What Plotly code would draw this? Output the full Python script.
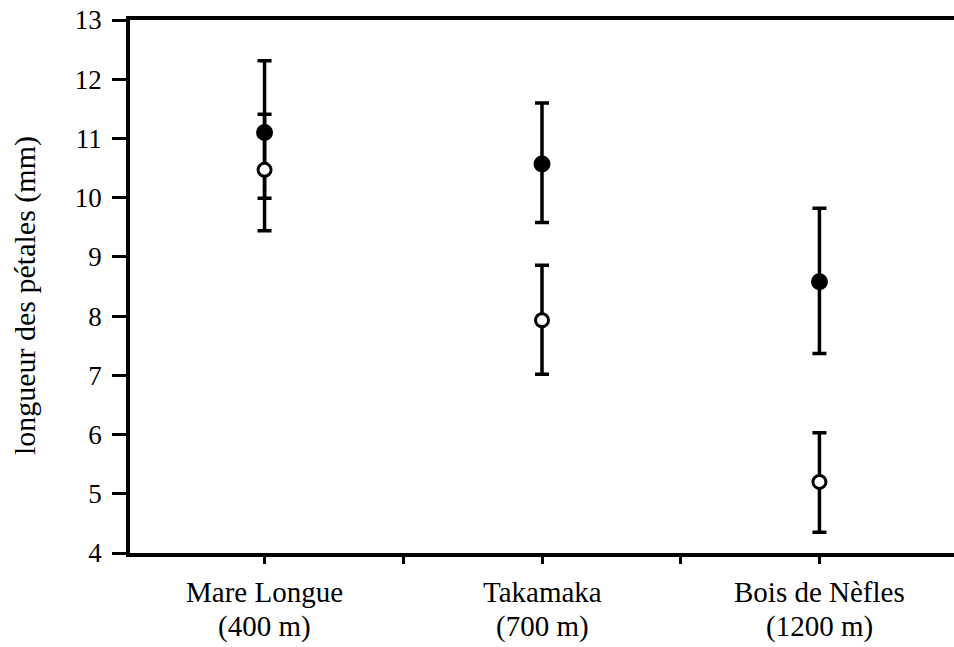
import plotly.graph_objects as go

# Sites along the altitudinal gradient
site_names = ["Mare Longue", "Takamaka", "Bois de Nèfles"]
site_altitudes = ["(400 m)", "(700 m)", "(1200 m)"]
site_pos = [0, 1, 2]

# Petal length (mm): filled symbols
filled_mean = [11.10, 10.57, 8.58]
filled_high = [12.31, 11.60, 9.82]
filled_low = [9.99, 9.58, 7.37]

# Petal length (mm): open symbols
open_mean = [10.47, 7.93, 5.20]
open_high = [11.41, 8.86, 6.03]
open_low = [9.44, 7.02, 4.35]

y_ticks = [4, 5, 6, 7, 8, 9, 10, 11, 12, 13]
x_ticks = [-0.5, 0, 0.5, 1, 1.5, 2, 2.5]
y_title = "longueur des pétales (mm)"

FONT = "'Liberation Serif', 'Times New Roman', Times, serif"
LABEL_SIZE = 29


def err(mean, high, low):
    return dict(
        type="data",
        symmetric=False,
        array=[h - m for h, m in zip(high, mean)],
        arrayminus=[m - l for m, l in zip(mean, low)],
        color="black",
        thickness=3.5,
        width=7,
    )


fig = go.Figure()
fig.add_trace(go.Scatter(
    x=site_pos, y=filled_mean, mode="markers",
    marker=dict(symbol="circle", size=17, color="black", line=dict(width=0)),
    error_y=err(filled_mean, filled_high, filled_low),
    showlegend=False,
))
fig.add_trace(go.Scatter(
    x=site_pos, y=open_mean, mode="markers",
    marker=dict(symbol="circle", size=13, color="white", line=dict(width=3, color="black")),
    error_y=err(open_mean, open_high, open_low),
    showlegend=False,
))

# Two-line category labels under the axis, set close together
annotations = []
for pos, name, alt in zip(site_pos, site_names, site_altitudes):
    annotations.append(dict(
        x=pos, xref="x", y=0, yref="paper", yshift=-39,
        text=name, showarrow=False, xanchor="center", yanchor="middle",
        font=dict(family=FONT, size=LABEL_SIZE, color="black"),
    ))
    annotations.append(dict(
        x=pos, xref="x", y=0, yref="paper", yshift=-73,
        text=alt, showarrow=False, xanchor="center", yanchor="middle",
        font=dict(family=FONT, size=LABEL_SIZE, color="black"),
    ))

# Rotated axis title
annotations.append(dict(
    x=0, xref="paper", xshift=-105, y=0.482, yref="paper",
    text=y_title, textangle=-90, showarrow=False,
    xanchor="center", yanchor="middle",
    font=dict(family=FONT, size=30, color="black"),
))

fig.update_layout(
    width=954, height=647,
    margin=dict(l=130, r=0, t=20, b=94),
    paper_bgcolor="white", plot_bgcolor="white",
    font=dict(family=FONT, color="black", size=27),
    annotations=annotations,
    xaxis=dict(
        range=[-0.485, 2.485],
        tickmode="array", tickvals=x_ticks, ticktext=[""] * len(x_ticks),
        ticks="outside", ticklen=7, tickwidth=2.5, tickcolor="black",
        showline=True, linecolor="black", linewidth=3.5, mirror=True,
        showgrid=False, zeroline=False,
    ),
    yaxis=dict(
        range=[4, 13],
        tickmode="array", tickvals=y_ticks,
        ticks="outside", ticklen=14, tickwidth=3, tickcolor="black",
        showline=True, linecolor="black", linewidth=3.5,
        showgrid=False, zeroline=False,
        ticklabelstandoff=5,
        tickfont=dict(family=FONT, size=27, color="black"),
    ),
)

fig.write_html("out.html")
